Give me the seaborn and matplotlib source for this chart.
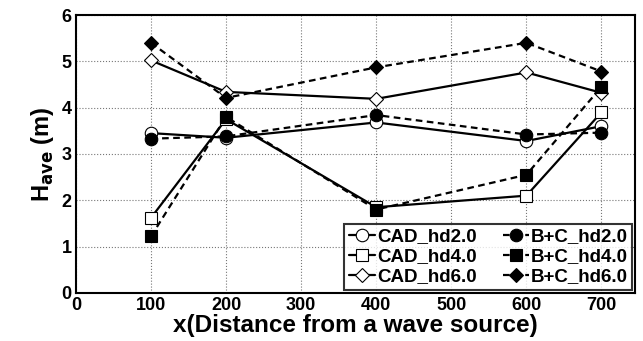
import matplotlib
matplotlib.use("Agg")
import matplotlib.pyplot as plt
import seaborn as sns
import pandas as pd

x = [100, 200, 400, 600, 700]
cad_hd2 = [3.45, 3.35, 3.68, 3.28, 3.60]
cad_hd4 = [1.62, 3.75, 1.85, 2.10, 3.90]
cad_hd6 = [5.02, 4.34, 4.19, 4.76, 4.32]
bc_hd2 = [3.33, 3.38, 3.84, 3.42, 3.46]
bc_hd4 = [1.22, 3.80, 1.80, 2.55, 4.45]
bc_hd6 = [5.40, 4.21, 4.87, 5.40, 4.78]
xticks = [0, 100, 200, 300, 400, 500, 600, 700]
yticks = [0, 1, 2, 3, 4, 5, 6]

sns.set_theme(style="white")
plt.rcParams['font.family'] = ['Liberation Sans', 'DejaVu Sans']
plt.rcParams['font.weight'] = 'bold'
plt.rcParams['text.color'] = 'black'
plt.rcParams['axes.labelcolor'] = 'black'
plt.rcParams['xtick.color'] = 'black'
plt.rcParams['ytick.color'] = 'black'
plt.rcParams['mathtext.default'] = 'bf'

fig = plt.figure(figsize=(6.43, 3.41), dpi=100)
ax = fig.add_axes([0.118, 0.141, 0.870, 0.815])

series = [
    ("CAD_hd2.0", cad_hd2, "o", "-", "white"),
    ("CAD_hd4.0", cad_hd4, "s", "-", "white"),
    ("CAD_hd6.0", cad_hd6, "D", "-", "white"),
    ("B+C_hd2.0", bc_hd2, "o", (0, (3, 2)), "black"),
    ("B+C_hd4.0", bc_hd4, "s", (0, (3, 2)), "black"),
    ("B+C_hd6.0", bc_hd6, "D", (0, (3, 2)), "black"),
]
for name, vals, m, ls, fc in series:
    df = pd.DataFrame({"x": x, "y": vals})
    ms = 9 if m != "D" else 7
    sns.lineplot(data=df, x="x", y="y", ax=ax, color="black", linewidth=1.6,
                 linestyle=ls, marker=m, markersize=ms, markerfacecolor=fc,
                 markeredgecolor="black", markeredgewidth=0.8, label=name)

ax.set_xlim(0, 745)
ax.set_ylim(0, 6)
ax.set_xticks(xticks)
ax.set_yticks(yticks)
ax.tick_params(axis="both", labelsize=13, direction="in", length=4, width=1, colors="black", pad=3)
for lab in ax.get_xticklabels() + ax.get_yticklabels():
    lab.set_fontweight("bold")
ax.grid(True, linestyle=":", color="#777777", linewidth=0.8)
for s in ax.spines.values():
    s.set_color("black")
    s.set_linewidth(1.5)
ax.set_xlabel("x(Distance from a wave source)", fontsize=17.5, fontweight="bold", labelpad=0)
ax.set_ylabel(r"H$_{ave}$ (m)", fontsize=17, fontweight="bold", labelpad=4)

leg = ax.legend(loc="lower right", ncol=2, fontsize=13.5, frameon=True, fancybox=False,
                handlelength=1.4, handletextpad=0.1, columnspacing=1.4,
                borderpad=0.25, labelspacing=0.15, borderaxespad=0.15)
leg.get_frame().set_edgecolor("black")
leg.get_frame().set_linewidth(1.5)
for t in leg.get_texts():
    t.set_fontweight("bold")

fig.savefig("out.png", dpi=100)
